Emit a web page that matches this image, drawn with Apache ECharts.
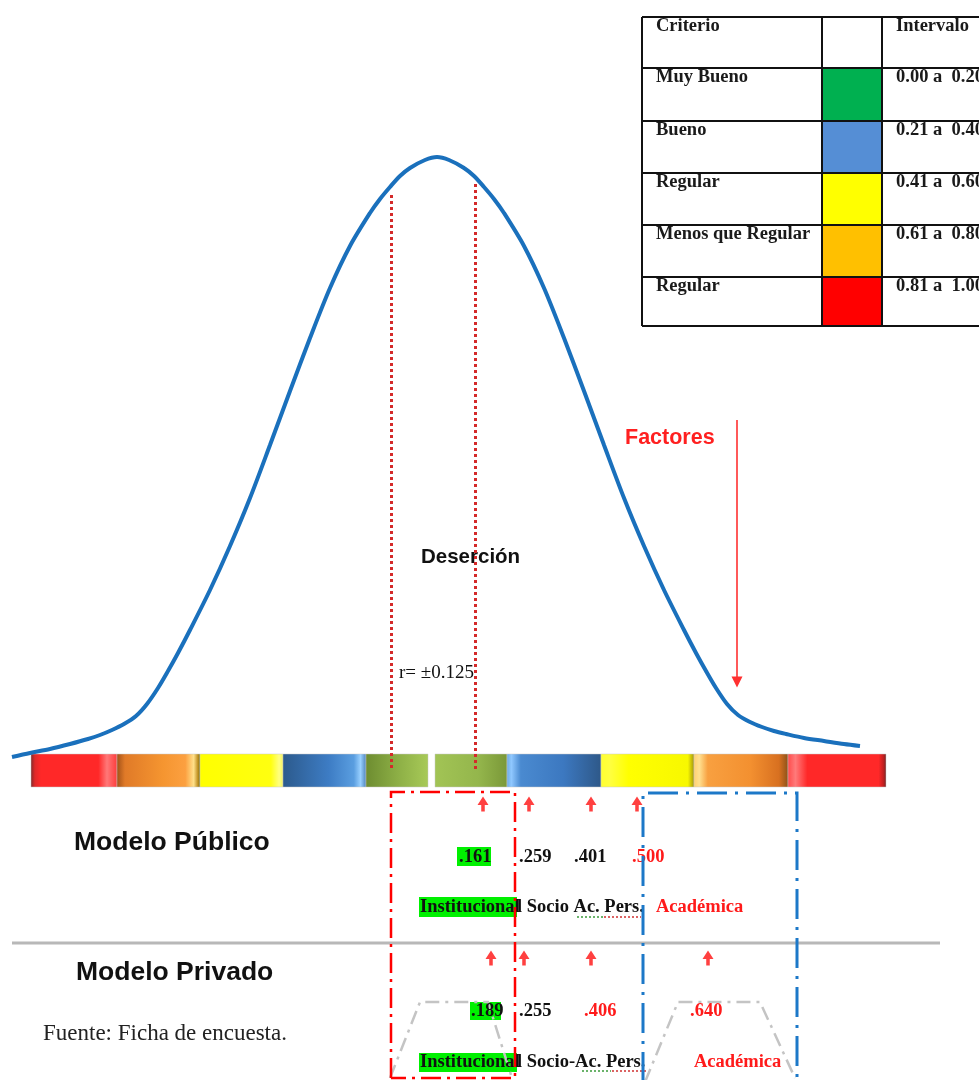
<!DOCTYPE html>
<html><head><meta charset="utf-8">
<script src="https://cdn.jsdelivr.net/npm/echarts@6/dist/echarts.min.js"></script>
<style>html,body{margin:0;padding:0;background:#fff}#c{width:979px;height:1080px}</style>
</head><body><div id="c"></div>
<script>
// ---------- data (in the diagram's own x / y scale) ----------
const curveX = [12, 30, 50, 70, 88, 100, 112, 124, 136, 147, 158, 168, 178, 190, 210, 230, 250, 270, 290, 310, 330, 350, 370, 380, 390, 400, 410, 425, 437,
                449, 464, 474, 484, 494, 504, 524, 544, 564, 584, 604, 624, 644, 664, 684, 696, 706, 716, 727, 738, 750, 762, 774, 786, 804, 824, 844, 860];
const curveY = [757, 753, 749, 744, 739, 735, 730, 724, 716, 704, 688, 671, 653, 630, 590, 546, 498, 445, 391, 338, 288, 246, 213, 199, 187, 176, 168, 160, 157,
                160, 168, 176, 187, 199, 213, 246, 288, 338, 391, 445, 498, 546, 590, 630, 653, 671, 688, 704, 715, 722, 727, 731, 734, 738, 741, 744, 746];

const segStart = [31, 117, 200, 283, 366, 435, 507, 601, 694, 788];
const segEnd   = [117, 200, 283, 366, 428, 507, 601, 694, 788, 886];
const segKind  = ['redL', 'orangeL', 'yellowL', 'blueL', 'greenL', 'greenR', 'blueR', 'yellowR', 'orangeR', 'redR'];

const dropX   = [391, 475];
const dropTop = [195, 184];

const publicArrowX  = [483, 529, 591, 637];
const privateArrowX = [491, 524, 591, 708];
const publicValues  = ['.161', '.259', '.401', '.500'];
const privateValues = ['.189', '.255', '.406', '.640'];

const criterioLabels = ['Muy Bueno', 'Bueno', 'Regular', 'Menos que Regular', 'Regular'];
const intervalLabels = ['0.00 a  0.20', '0.21 a  0.40', '0.41 a  0.60', '0.61 a  0.80', '0.81 a  1.00'];
const criterioColors = ['#00b050', '#558ed5', '#ffff00', '#ffc000', '#ff0000'];

// ---------- layout & styles ----------
const SERIF = '"Liberation Serif", "Times New Roman", serif';
const SANS = '"Liberation Sans", Arial, sans-serif';
const BAR_TOP = 754, BAR_BOTTOM = 787, DROP_BOTTOM = 770;
const PUB_ARROW_Y = 804, PRIV_ARROW_Y = 958;
const ROW_FONT = 'bold 18.5px ' + SERIF;

const segStyles = {
  redL:    [[0,'#7a2a2a'],[0.05,'#e02828'],[0.12,'#ff2828'],[0.78,'#ff2828'],[0.88,'#ff7878'],[1,'#ff3a3a']],
  orangeL: [[0,'#a05018'],[0.1,'#e07a28'],[0.55,'#f59530'],[0.82,'#fca040'],[0.92,'#ffe088'],[0.97,'#c09020'],[1,'#707010']],
  yellowL: [[0,'#ffff00'],[0.85,'#ffff10'],[0.95,'#ffff80'],[1,'#f0f060']],
  blueL:   [[0,'#2c5a8c'],[0.55,'#3d7cc4'],[0.85,'#5a9ee0'],[0.93,'#99d0ff'],[1,'#4a80b8']],
  greenL:  [[0,'#6d8c30'],[0.5,'#8cae45'],[1,'#a8ca58']],
  greenR:  [[0,'#a2c455'],[0.6,'#94b64c'],[1,'#7a9838']],
  blueR:   [[0,'#6aa8e0'],[0.05,'#90c8ff'],[0.15,'#4a8ad0'],[0.6,'#3c78c0'],[1,'#2e5888']],
  yellowR: [[0,'#ffff30'],[0.1,'#ffff40'],[0.3,'#ffff00'],[0.93,'#f8f800'],[1,'#a09010']],
  orangeR: [[0,'#ffd070'],[0.06,'#ffe090'],[0.15,'#f8a040'],[0.6,'#f39030'],[0.9,'#d87020'],[1,'#8a5018']],
  redR:    [[0,'#ff4a4a'],[0.08,'#ff7a7a'],[0.2,'#ff2828'],[0.92,'#ff2828'],[0.97,'#c02020'],[1,'#702828']]
};
const grad = stops => new echarts.graphic.LinearGradient(0, 0, 1, 0, stops.map(([o, c]) => ({offset: o, color: c})));

// ---------- graphic annotations ----------
const g = [];
const txt = (text, x, y, font, fill, z) => g.push({
  type: 'text', x, y, z: z || 1,
  style: {text, font, fill: fill || '#111', align: 'left', verticalAlign: 'middle', textAlign: 'left', textVerticalAlign: 'middle'}
});
const rect = (x, y, w, h, fill, z) => g.push({type: 'rect', z: z || 1, shape: {x, y, width: w, height: h}, style: {fill}});
const line = (x1, y1, x2, y2, stroke, lw, dash, z) => g.push({type: 'line', z: z || 2, shape: {x1, y1, x2, y2}, style: {stroke, lineWidth: lw, lineDash: dash || null}});
const poly = (pts, stroke, lw, dash, z) => g.push({type: 'polyline', z: z || 2, shape: {points: pts}, style: {stroke, lineWidth: lw, lineDash: dash || null, fill: null}});

// table
const tRows = [17, 68, 121, 173, 225, 277, 326];
const tCols = [642, 822, 882];
criterioColors.forEach((c, i) => rect(tCols[1], tRows[i + 1], tCols[2] - tCols[1], tRows[i + 2] - tRows[i + 1], c, 1));
tRows.forEach(y => line(642, y, 990, y, '#111', 2, null, 3));
tCols.forEach(x => line(x, 17, x, 326, '#111', 2, null, 3));
const TFONT = 'bold 18.5px ' + SERIF;
txt('Criterio', 656, 26, TFONT, '#1a1a1a');
txt('Intervalo', 896, 26, TFONT, '#1a1a1a');
criterioLabels.forEach((t, i) => txt(t, 656, tRows[i + 1] + 9, TFONT, '#1a1a1a'));
intervalLabels.forEach((t, i) => txt(t, 896, tRows[i + 1] + 9, TFONT, '#1a1a1a'));

// main annotations
txt('Factores', 625, 438, 'bold 21.5px ' + SANS, '#ff2020');
txt('Deserción', 421, 557, 'bold 20.5px ' + SANS, '#111');
txt('r= ±0.125', 399, 673, '19px ' + SERIF, '#111');
txt('Modelo Público', 74, 843, 'bold 26.5px ' + SANS, '#111');
txt('Modelo Privado', 76, 973, 'bold 26.5px ' + SANS, '#111');
txt('Fuente: Ficha de encuesta.', 43, 1034, '23px ' + SERIF, '#222');

// separator
line(12, 943, 940, 943, '#b8b8b8', 3, null, 1);

// gray trapezoids (behind the text)
poly([[390, 1078], [420, 1002], [488, 1002], [512, 1078]], '#c4c4c4', 2.5, [14, 6, 3, 6], 0);
poly([[645, 1082], [678, 1002], [760, 1002], [795, 1078]], '#c4c4c4', 2.5, [14, 6, 3, 6], 0);

// highlights + row texts
rect(457, 847, 34, 19, '#00f000');
rect(419, 897, 98, 20, '#00f000');
rect(470, 1002, 31, 18, '#00f000');
rect(419, 1053, 98, 19, '#00f000');
const pubX = [459, 519, 574, 632], pubC = ['#111', '#111', '#111', '#ff1a1a'];
const privX = [471, 519, 584, 690], privC = ['#111', '#111', '#ff1a1a', '#ff1a1a'];
publicValues.forEach((t, i) => txt(t, pubX[i], 857, ROW_FONT, pubC[i], 2));
privateValues.forEach((t, i) => txt(t, privX[i], 1011, ROW_FONT, privC[i], 2));
txt('Institucional', 420, 907, ROW_FONT, '#111', 2);
txt('l Socio Ac. Pers.', 517, 907, ROW_FONT, '#111', 2);
txt('Académica', 656, 907, ROW_FONT, '#ff1a1a', 2);
txt('Institucional', 420, 1062, ROW_FONT, '#111', 2);
txt('l Socio-Ac. Pers.', 517, 1062, ROW_FONT, '#111', 2);
txt('Académica', 694, 1062, ROW_FONT, '#ff1a1a', 2);
// spell-check squiggles
line(577, 917, 603, 917, '#3a9a3a', 1.5, [2, 2], 3);
line(604, 917, 641, 917, '#d03030', 1.5, [2, 2], 3);
line(582, 1071, 611, 1071, '#3a9a3a', 1.5, [2, 2], 3);
line(612, 1071, 646, 1071, '#d03030', 1.5, [2, 2], 3);

// dash-dot boxes (on top)
poly([[391, 1078], [391, 792], [515, 792], [515, 1078], [391, 1078]], '#ff0000', 2.5, [20, 6, 3, 6], 5);
poly([[643, 1082], [643, 793], [797, 793], [797, 1082]], '#1c78c8', 3, [30, 8, 3, 8], 5);

// ---------- chart ----------
const arrowPath = 'path://M5,0 L10,8 L6.6,8 L6.6,14 L3.4,14 L3.4,8 L0,8 Z';
const chart = echarts.init(document.getElementById('c'), null, {renderer: 'canvas'});
chart.setOption({
  animation: false,
  backgroundColor: '#ffffff',
  grid: {left: 0, right: 0, top: 0, bottom: 0},
  xAxis: {type: 'value', min: 0, max: 979, show: false},
  yAxis: {type: 'value', min: 0, max: 1080, inverse: true, show: false},
  graphic: {elements: g},
  series: [
    {
      type: 'custom', name: 'escala', z: 3,
      data: segStart.map((s, i) => [s, segEnd[i]]),
      encode: {x: [0, 1]},
      renderItem: (params, api) => {
        const p0 = api.coord([api.value(0), BAR_TOP]);
        const p1 = api.coord([api.value(1), BAR_BOTTOM]);
        return {type: 'rect', shape: {x: p0[0], y: p0[1], width: p1[0] - p0[0], height: p1[1] - p0[1]},
                style: {fill: grad(segStyles[segKind[params.dataIndex]]), stroke: 'rgba(200,200,200,0.6)', lineWidth: 0.8}};
      }
    },
    {
      type: 'line', name: 'curva', z: 4, smooth: 0.3, showSymbol: false,
      data: curveX.map((x, i) => [x, curveY[i]]),
      lineStyle: {color: '#1a70bc', width: 4}
    },
    {
      type: 'lines', name: 'r', coordinateSystem: 'cartesian2d', z: 6,
      data: dropX.map((x, i) => ({coords: [[x, dropTop[i]], [x, DROP_BOTTOM]]})),
      lineStyle: {color: '#d42a2a', width: 3, type: [3, 3], opacity: 1}
    },
    {
      type: 'lines', name: 'factores', coordinateSystem: 'cartesian2d', z: 6,
      symbol: ['none', 'triangle'], symbolSize: 11,
      data: [{coords: [[737, 420], [737, 682]]}],
      lineStyle: {color: '#ff3030', width: 1.6, opacity: 1}
    },
    {
      type: 'scatter', name: 'publico', z: 6, symbol: arrowPath, symbolSize: [11, 15],
      data: publicArrowX.map(x => [x, PUB_ARROW_Y]), itemStyle: {color: '#ff1010'}
    },
    {
      type: 'scatter', name: 'privado', z: 6, symbol: arrowPath, symbolSize: [11, 15],
      data: privateArrowX.map(x => [x, PRIV_ARROW_Y]), itemStyle: {color: '#ff1010'}
    }
  ]
});
</script></body></html>
